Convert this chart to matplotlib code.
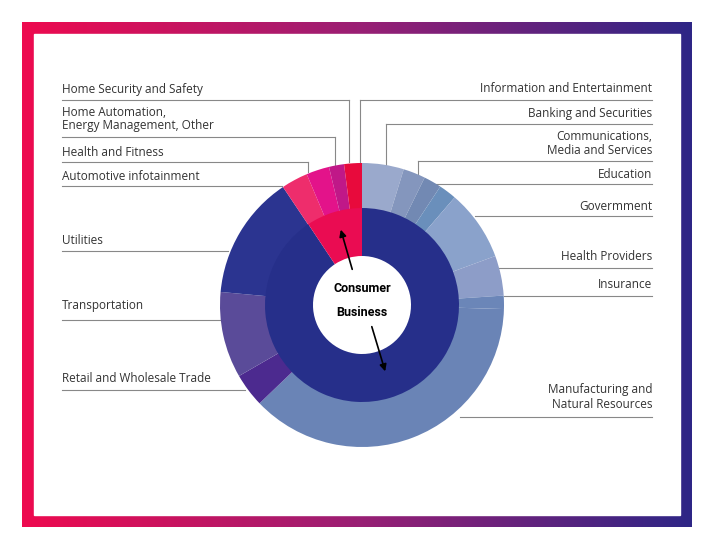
import matplotlib
matplotlib.use("Agg")
import matplotlib.pyplot as plt
import numpy as np
from matplotlib.colors import LinearSegmentedColormap

inner_labels = ["Business", "Consumer"]
inner_values = [90.3, 9.3]
outer_labels = ["Information and Entertainment", "Banking and Securities",
                "Communications,\nMedia and Services", "Education", "Govermment",
                "Health Providers", "Insurance", "Manufacturing and\nNatural Resources",
                "Retail and Wholesale Trade", "Transportation", "Utilities",
                "Automotive infotainment", "Health and Fitness",
                "Home Automation,\nEnergy Management, Other", "Home Security and Safety"]
outer_values = [4.7, 2.5, 2.0, 2.0, 8.0, 4.5, 1.5, 37.0, 3.8, 9.7, 14.0, 3.0, 2.6, 1.7, 2.0]
outer_colors = ["#9aa9cc", "#8496bd", "#7289b3", "#6a8fbb", "#8aa2cb", "#8d9dc8", "#6b86b8",
                "#6a84b6", "#4c2a8f", "#5a4b99", "#2b3490", "#ee2d6c", "#e3138a", "#c01888", "#e80a3c"]
inner_colors = ["#262f8a", "#ea0c52"]

fig = plt.figure(figsize=(7.2, 5.4), dpi=100)
ax = fig.add_axes([0, 0, 1, 1])
ax.set_xlim(0, 720); ax.set_ylim(0, 540); ax.axis("off")

# gradient frame
cmap = LinearSegmentedColormap.from_list("g", ["#ee0a4f", "#9a1f74", "#2e2686"])
grad = np.linspace(0, 1, 256).reshape(1, -1)
ax.imshow(grad, cmap=cmap, extent=[22, 692, 540-527, 540-22], aspect="auto", zorder=0)
ax.add_patch(plt.Rectangle((34, 540-515), 646, 481, color="white", zorder=1))

cx, cy = 362, 540-305
ax.pie(outer_values, colors=outer_colors, radius=142, center=(cx, cy), startangle=90,
       counterclock=False, wedgeprops=dict(width=46, edgecolor="none"), frame=True)
ax.pie(inner_values, colors=inner_colors, radius=97, center=(cx, cy), startangle=90,
       counterclock=False, wedgeprops=dict(width=48, edgecolor="none"), frame=True)
for c in ax.patches[-17:]:
    c.set_zorder(3)
ax.set_xlim(0, 720); ax.set_ylim(0, 540); ax.set_aspect("auto"); ax.axis("off")

ax.text(cx, 540-288, "Consumer", ha="center", va="center", fontsize=9, fontweight="bold", zorder=5, family="Roboto")
ax.text(cx, 540-312, "Business", ha="center", va="center", fontsize=9, fontweight="bold", zorder=5, family="Roboto")
ax.annotate("", xy=(340, 540-227), xytext=(353, 540-272),
            arrowprops=dict(arrowstyle="-|>", color="black", lw=1.2), zorder=6)
ax.annotate("", xy=(386, 540-374), xytext=(371, 540-324),
            arrowprops=dict(arrowstyle="-|>", color="black", lw=1.2), zorder=6)

lc = "#888888"
# left labels: (label index, text y, line y, x end, vertical end y)
left = [(14, 89, 100, 349, 162), (13, 119, 137, 335, 166), (12, 152, 162, 308, 172),
        (11, 177, 186, 282, None), (10, 240, 251, 228, None), (9, 306, 320, 222, None),
        (8, 379, 390, 245, None)]
for i, ty, ly, xe, ve in left:
    ax.text(62, 540-ty, outer_labels[i], ha="left", va="center", fontsize=8.5,
            color="#333333", linespacing=1.1, zorder=5, family="Open Sans")
    ax.plot([62, xe], [540-ly, 540-ly], color=lc, lw=0.8, zorder=2)
    if ve:
        ax.plot([xe, xe], [540-ly, 540-ve], color=lc, lw=0.8, zorder=2)
right = [(0, 89, 100, 360, 162), (1, 113, 124, 386, 166), (2, 143, 161, 418, 176),
         (3, 174, 184, 432, 190), (4, 206, 216, 475, None), (5, 256, 268, 498, None),
         (6, 285, 296, 504, None), (7, 397, 417, 460, None)]
for i, ty, ly, xs, ve in right:
    ax.text(652, 540-ty, outer_labels[i], ha="right", va="center", fontsize=8.5,
            color="#333333", linespacing=1.1, zorder=5, family="Open Sans", multialignment="right")
    ax.plot([xs, 652], [540-ly, 540-ly], color=lc, lw=0.8, zorder=2)
    if ve:
        ax.plot([xs, xs], [540-ly, 540-ve], color=lc, lw=0.8, zorder=2)

fig.savefig("out.png", dpi=100)
